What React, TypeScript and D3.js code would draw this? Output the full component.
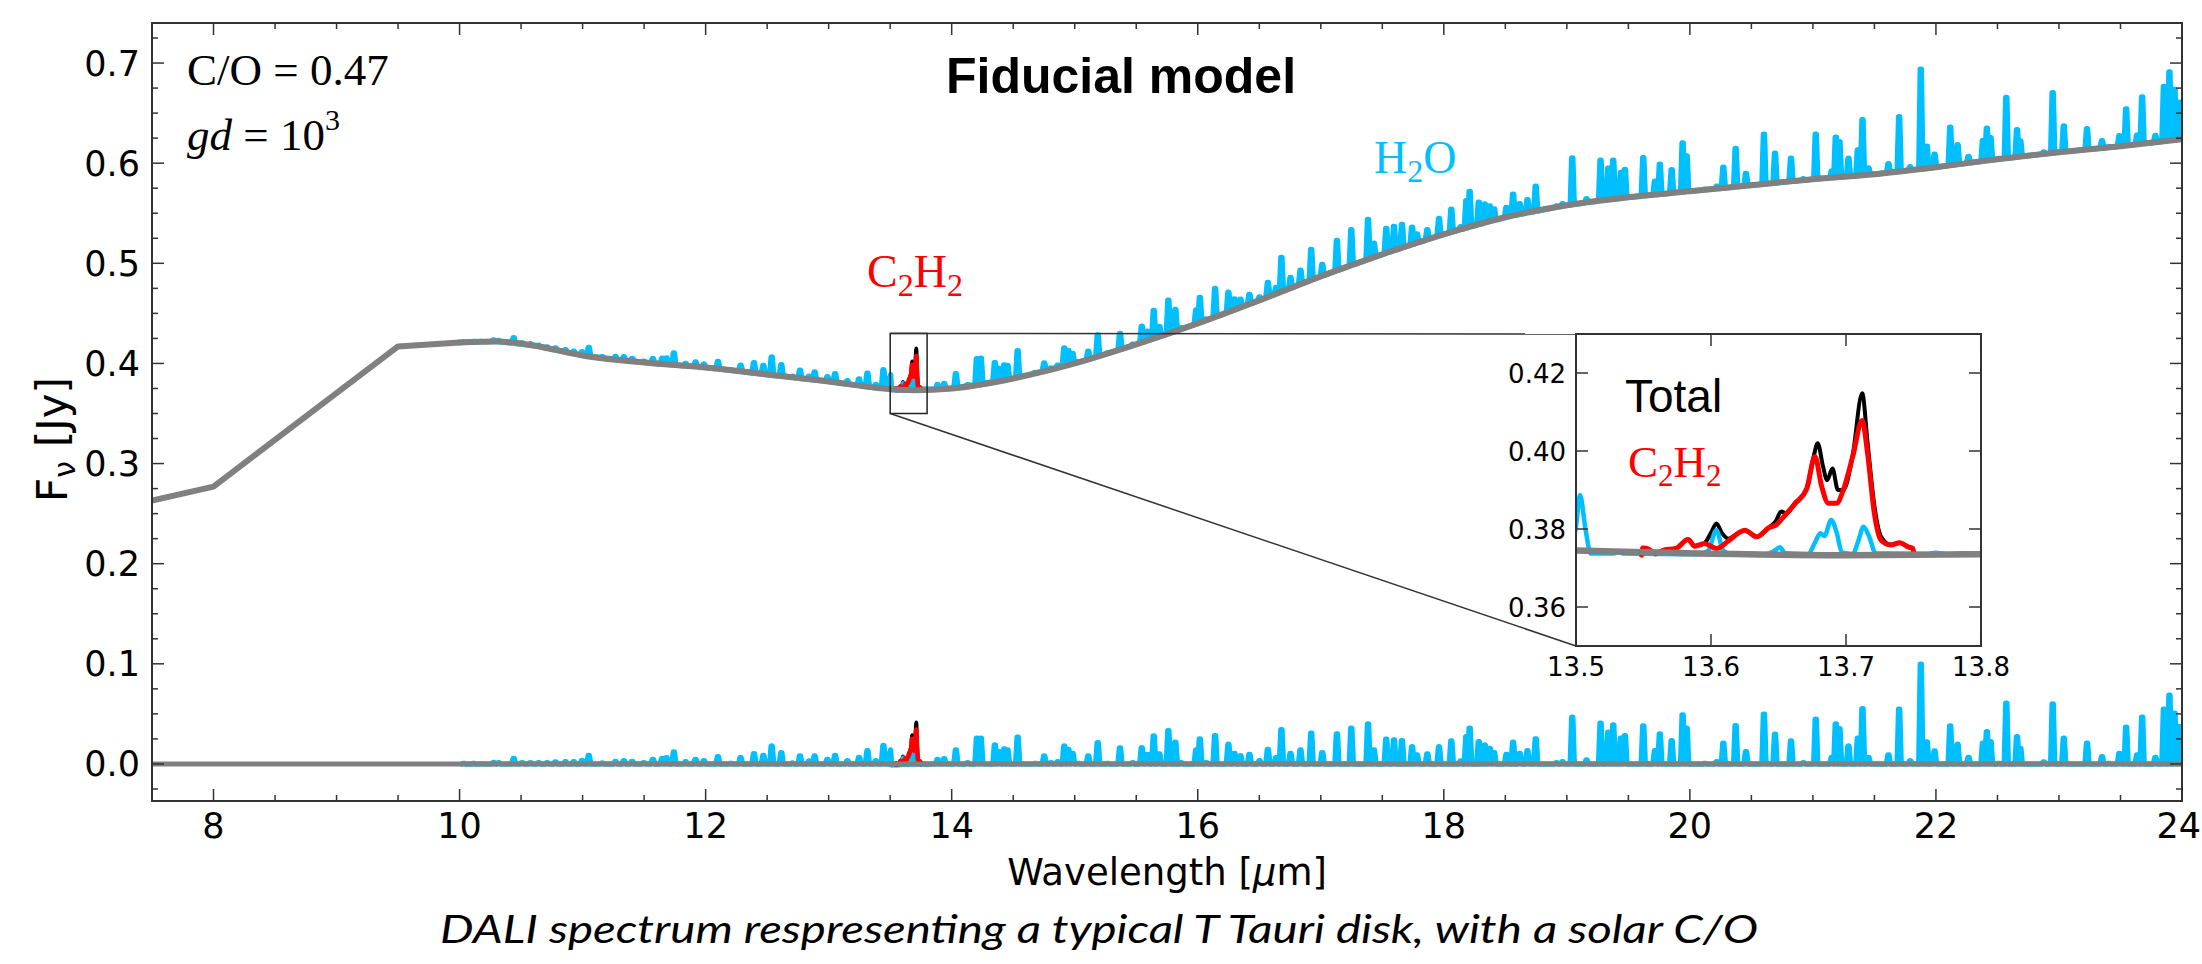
import React from "react";
import * as d3 from "d3";

// ---------------- DATA ----------------
// Continuum (gray), [wavelength µm, flux Jy]
const continuum: [number, number][] = [
  [7.5, 0.263], [8.0, 0.277], [9.5, 0.417], [10.0, 0.421], [10.3, 0.422], [10.6, 0.418],
  [11.0, 0.408], [11.5, 0.401], [12.0, 0.396], [12.5, 0.389], [13.0, 0.382], [13.4, 0.3755],
  [13.7, 0.3733], [14.0, 0.375], [14.5, 0.385], [15.0, 0.4], [15.5, 0.419], [16.0, 0.44],
  [16.5, 0.463], [17.0, 0.487], [17.5, 0.509], [18.0, 0.529], [18.5, 0.546], [19.0, 0.558],
  [19.5, 0.566], [20.0, 0.572], [20.5, 0.578], [21.0, 0.584], [21.5, 0.589], [22.0, 0.596],
  [22.5, 0.604], [23.0, 0.611], [23.5, 0.617], [24.0, 0.624],
];

// H2O emission lines: [wavelength µm, line flux above continuum Jy]
const h2oLines: [number, number][] = [
  [10.033, 0.0033], [10.114, 0.0033], [10.169, 0.003], [10.277, 0.0043], [10.318, 0.004],
  [10.44, 0.0083], [10.508, 0.004], [10.576, 0.004], [10.643, 0.004], [10.712, 0.004],
  [10.779, 0.0047], [10.86, 0.005], [10.928, 0.005], [10.996, 0.0063], [11.05, 0.0113],
  [11.159, 0.0037], [11.267, 0.0053], [11.335, 0.006], [11.403, 0.0053], [11.498, 0.004],
  [11.571, 0.0073], [11.647, 0.0083], [11.682, 0.009], [11.742, 0.0147], [11.837, 0.005],
  [11.918, 0.0073], [11.986, 0.006], [12.1, 0.01], [12.203, 0.0033], [12.284, 0.009],
  [12.393, 0.013], [12.469, 0.0113], [12.537, 0.0207], [12.615, 0.014], [12.705, 0.0037],
  [12.767, 0.0107], [12.84, 0.0057], [12.886, 0.0107], [12.99, 0.0073], [13.052, 0.0113],
  [13.152, 0.006], [13.247, 0.0093], [13.315, 0.016], [13.383, 0.006], [13.445, 0.0213],
  [13.483, 0.0127],
  [13.885, 0.0073], [13.939, 0.008], [14.034, 0.0167], [14.129, 0.004], [14.205, 0.0283],
  [14.237, 0.0283], [14.351, 0.0217], [14.386, 0.015], [14.427, 0.0177], [14.454, 0.0167],
  [14.536, 0.0293], [14.677, 0.0033], [14.752, 0.0107], [14.807, 0.004], [14.861, 0.005],
  [14.915, 0.0207], [14.948, 0.0173], [14.983, 0.0133], [15.029, 0.0033], [15.11, 0.0107],
  [15.187, 0.024], [15.268, 0.0033], [15.368, 0.0187], [15.471, 0.004], [15.545, 0.019],
  [15.588, 0.0123], [15.642, 0.0307], [15.688, 0.0127], [15.761, 0.036], [15.818, 0.0243],
  [15.865, 0.004], [15.987, 0.0167], [16.017, 0.0277], [16.068, 0.004], [16.141, 0.031],
  [16.249, 0.0223], [16.298, 0.0133], [16.347, 0.011], [16.42, 0.0123], [16.502, 0.006],
  [16.57, 0.0173], [16.637, 0.009], [16.68, 0.037], [16.754, 0.0133], [16.835, 0.0167],
  [16.922, 0.0333], [17.012, 0.014], [17.131, 0.0327], [17.248, 0.0383], [17.384, 0.0427],
  [17.432, 0.0167], [17.532, 0.0273], [17.595, 0.0267], [17.66, 0.026], [17.742, 0.02],
  [17.782, 0.0117], [17.866, 0.0127], [17.961, 0.02], [18.061, 0.0257], [18.137, 0.0057],
  [18.183, 0.03], [18.21, 0.0383], [18.284, 0.025], [18.333, 0.0217], [18.373, 0.0183],
  [18.409, 0.014], [18.509, 0.0123], [18.563, 0.0243], [18.617, 0.0133], [18.68, 0.016],
  [18.747, 0.0277], [18.916, 0.004], [18.965, 0.005], [19.044, 0.0493], [19.16, 0.0067],
  [19.274, 0.0433], [19.337, 0.0343], [19.377, 0.0417], [19.439, 0.0283], [19.472, 0.031],
  [19.621, 0.0407], [19.716, 0.016], [19.756, 0.0327], [19.852, 0.026], [19.941, 0.0517],
  [19.974, 0.0383], [20.123, 0.0033], [20.218, 0.005], [20.272, 0.0233], [20.372, 0.041],
  [20.456, 0.015], [20.602, 0.0523], [20.692, 0.0323], [20.822, 0.0257], [20.923, 0.004],
  [21.023, 0.0473], [21.153, 0.0093], [21.186, 0.0427], [21.216, 0.038], [21.289, 0.0207],
  [21.365, 0.0283], [21.403, 0.058], [21.452, 0.0093], [21.614, 0.0117], [21.701, 0.0573],
  [21.79, 0.006], [21.877, 0.1023], [21.926, 0.0247], [21.989, 0.0157], [22.116, 0.0407],
  [22.176, 0.0223], [22.265, 0.0093], [22.382, 0.0233], [22.414, 0.035], [22.444, 0.025],
  [22.51, 0.0033], [22.572, 0.0633], [22.659, 0.03], [22.686, 0.0183], [22.876, 0.0047],
  [22.949, 0.0627], [23.039, 0.0283], [23.161, 0.0027], [23.228, 0.0233], [23.35, 0.01],
  [23.405, 0.0033], [23.491, 0.0133], [23.546, 0.0393], [23.635, 0.0117], [23.676, 0.0493],
  [23.784, 0.0093], [23.853, 0.0573], [23.898, 0.0713], [23.939, 0.0533], [23.98, 0.04],
];

// Zoomed window 13.5–13.8 µm (absolute flux, Jy)
const h2oWindow: [number, number][] = [
  [13.495, 0.3745], [13.5, 0.3806], [13.503, 0.3887], [13.507, 0.38], [13.511, 0.3737],
  [13.528, 0.3737], [13.531, 0.3741], [13.535, 0.3737], [13.59, 0.3735], [13.598, 0.3745],
  [13.604, 0.3797], [13.609, 0.3745], [13.615, 0.3735], [13.622, 0.3738], [13.64, 0.3735],
  [13.647, 0.3744], [13.651, 0.3753], [13.655, 0.3738], [13.672, 0.3736], [13.677, 0.3765],
  [13.681, 0.3789], [13.684, 0.3782], [13.689, 0.3823], [13.693, 0.3792], [13.697, 0.374],
  [13.705, 0.3736], [13.709, 0.3768], [13.713, 0.3806], [13.717, 0.3782], [13.722, 0.3738],
  [13.76, 0.3736], [13.766, 0.3739], [13.775, 0.3735], [13.787, 0.3738], [13.8, 0.3735],
];

const c2h2Window: [number, number][] = [
  [13.5485, 0.3733], [13.5495, 0.3751], [13.554, 0.3748], [13.559, 0.3736], [13.565, 0.3746],
  [13.574, 0.375], [13.583, 0.3773], [13.588, 0.3756], [13.595, 0.3763], [13.604, 0.375],
  [13.613, 0.377], [13.62, 0.3789], [13.625, 0.3797], [13.634, 0.378], [13.643, 0.3804],
  [13.648, 0.381], [13.655, 0.3836], [13.662, 0.3864], [13.671, 0.3904], [13.677, 0.3986],
  [13.682, 0.3909], [13.687, 0.3866], [13.693, 0.3866], [13.698, 0.39], [13.705, 0.3986],
  [13.712, 0.4078], [13.716, 0.3994], [13.721, 0.384], [13.726, 0.3771], [13.733, 0.3759],
  [13.74, 0.3765], [13.746, 0.3754], [13.7495, 0.375], [13.7505, 0.3733],
];

const totalWindow: [number, number][] = [
  [13.5485, 0.3733], [13.5495, 0.3751], [13.554, 0.3748], [13.559, 0.3736], [13.565, 0.3746],
  [13.574, 0.375], [13.583, 0.3773], [13.588, 0.3756], [13.595, 0.3763], [13.6, 0.379],
  [13.604, 0.3814], [13.608, 0.379], [13.613, 0.3775], [13.62, 0.3789], [13.625, 0.3797],
  [13.634, 0.378], [13.643, 0.3804], [13.648, 0.382], [13.652, 0.3845], [13.656, 0.384],
  [13.662, 0.3866], [13.671, 0.3904], [13.676, 0.3985], [13.679, 0.402], [13.683, 0.396],
  [13.686, 0.3925], [13.69, 0.3955], [13.694, 0.39], [13.698, 0.39], [13.705, 0.399],
  [13.712, 0.4148], [13.716, 0.402], [13.721, 0.386], [13.726, 0.378], [13.733, 0.376],
  [13.74, 0.3765], [13.746, 0.3754], [13.7495, 0.375], [13.7505, 0.3733],
];

// Ticks
const xTicksMain = [8, 10, 12, 14, 16, 18, 20, 22, 24];
const yTicksMain = [0.0, 0.1, 0.2, 0.3, 0.4, 0.5, 0.6, 0.7];
const xTicksInset = [13.5, 13.6, 13.7, 13.8];
const yTicksInset = [0.36, 0.38, 0.4, 0.42];
const xDomain: [number, number] = [7.5, 24];
const yDomain: [number, number] = [-0.037, 0.74];
const insetXDomain: [number, number] = [13.5, 13.8];
const insetYDomain: [number, number] = [0.35, 0.43];

// ---------------- LAYOUT ----------------
const W = 2202, H = 964;
const M = { left: 152, right: 2182, top: 23, bottom: 801 };
const INS = { left: 1576, right: 1981, top: 334, bottom: 646 };

const BLUE = "#00bfff";
const GRAY = "#808080";
const RED = "#ff0000";
const TICKFONT = "DejaVu Sans, sans-serif";

type Pt = [number, number];

export default function App() {
  const x = d3.scaleLinear().domain(xDomain).range([M.left, M.right]);
  const y = d3.scaleLinear().domain(yDomain).range([M.bottom, M.top]);
  const xi = d3.scaleLinear().domain(insetXDomain).range([INS.left, INS.right]);
  const yi = d3.scaleLinear().domain(insetYDomain).range([INS.bottom, INS.top]);

  const contAt = d3
    .scaleLinear()
    .domain(continuum.map((d) => d[0]))
    .range(continuum.map((d) => d[1]))
    .clamp(true);

  const mk = (xs: any, ys: any, curve: any) =>
    d3.line<Pt>().x((d) => xs(d[0])).y((d) => ys(d[1])).curve(curve);

  const contA = continuum.filter((d) => d[0] <= 10);
  const contB = continuum.filter((d) => d[0] >= 10);

  const resid = (arr: Pt[]): Pt[] => arr.map(([w, v]) => [w, v - contAt(w)] as Pt);

  const SW = 5.5;
  const DW = 0.016;
  const spikes = (baseFn: (w: number) => number) => {
    const pts: Pt[] = [];
    for (const [w, h] of h2oLines) {
      const yb = y(baseFn(w));
      const yt = Math.min(yb, y(baseFn(w) + h) + SW / 2);
      pts.push([x(w - DW), y(baseFn(w - DW))]);
      pts.push([x(w - DW * 0.25), yt]);
      pts.push([x(w + DW * 0.25), yt]);
      pts.push([x(w + DW), y(baseFn(w + DW))]);
    }
    return d3.line<Pt>().x((d) => d[0]).y((d) => d[1])(pts) || "";
  };

  const mainLin = (arr: Pt[], curve = d3.curveMonotoneX) => mk(x, y, curve)(arr) || "";
  const insLin = (arr: Pt[], curve = d3.curveMonotoneX) => mk(xi, yi, curve)(arr) || "";

  const minorX = d3.range(7.5, 24.001, 0.5).filter((v) => Math.abs(v / 2 - Math.round(v / 2)) > 1e-6);
  const minorY = d3.range(-0.025, 0.7401, 0.025).filter((v) => Math.abs(v * 10 - Math.round(v * 10)) > 1e-6);

  const zero: Pt[] = [[7.5, 0], [24, 0]];

  return (
    <svg width={W} height={H} style={{ position: "absolute", left: 0, top: 0, background: "#fff" }}>
      <defs>
        <clipPath id="mainClip">
          <rect x={M.left} y={M.top} width={M.right - M.left} height={M.bottom - M.top} />
        </clipPath>
        <clipPath id="insClip">
          <rect x={INS.left} y={INS.top} width={INS.right - INS.left} height={INS.bottom - INS.top} />
        </clipPath>
      </defs>
      <rect x={0} y={0} width={W} height={H} fill="#fff" />

      {/* main data */}
      <g clipPath="url(#mainClip)" fill="none" strokeLinejoin="round" strokeLinecap="round">
        <path d={mainLin(totalWindow)} stroke="#000" strokeWidth={4} />
        <path d={mainLin(resid(totalWindow))} stroke="#000" strokeWidth={4} />
        <path d={spikes((w) => contAt(w))} stroke={BLUE} strokeWidth={SW} />
        <path d={spikes(() => 0)} stroke={BLUE} strokeWidth={SW} />
        <path d={mainLin(h2oWindow)} stroke={BLUE} strokeWidth={SW} />
        <path d={mainLin(resid(h2oWindow))} stroke={BLUE} strokeWidth={SW} />
        <path d={mainLin(c2h2Window)} stroke={RED} strokeWidth={4.5} />
        <path d={mainLin(resid(c2h2Window))} stroke={RED} strokeWidth={4.5} />
        <path d={mainLin(contA, d3.curveLinear)} stroke={GRAY} strokeWidth={6} />
        <path d={mainLin(contB)} stroke={GRAY} strokeWidth={6} />
        <path d={mainLin(zero, d3.curveLinear)} stroke={GRAY} strokeWidth={5} />
      </g>

      {/* zoom indicator */}
      <rect
        x={x(insetXDomain[0])}
        y={y(insetYDomain[1])}
        width={x(insetXDomain[1]) - x(insetXDomain[0])}
        height={y(insetYDomain[0]) - y(insetYDomain[1])}
        fill="none"
        stroke="#222"
        strokeWidth={1.5}
      />
      <line x1={x(insetXDomain[0])} y1={y(insetYDomain[1])} x2={INS.left} y2={INS.top} stroke="#333" strokeWidth={1.5} />
      <line x1={x(insetXDomain[0])} y1={y(insetYDomain[0])} x2={INS.left} y2={INS.bottom} stroke="#333" strokeWidth={1.5} />

      {/* main frame & ticks */}
      <rect x={M.left} y={M.top} width={M.right - M.left} height={M.bottom - M.top} fill="none" stroke="#333" strokeWidth={2} />
      <g stroke="#333" strokeWidth={1.5}>
        {xTicksMain.map((t) => (
          <g key={"xt" + t}>
            <line x1={x(t)} x2={x(t)} y1={M.bottom} y2={M.bottom - 12} />
            <line x1={x(t)} x2={x(t)} y1={M.top} y2={M.top + 12} />
          </g>
        ))}
        {minorX.map((t) => (
          <g key={"xm" + t}>
            <line x1={x(t)} x2={x(t)} y1={M.bottom} y2={M.bottom - 6} />
            <line x1={x(t)} x2={x(t)} y1={M.top} y2={M.top + 6} />
          </g>
        ))}
        {yTicksMain.map((t) => (
          <g key={"yt" + t}>
            <line x1={M.left} x2={M.left + 12} y1={y(t)} y2={y(t)} />
            <line x1={M.right} x2={M.right - 12} y1={y(t)} y2={y(t)} />
          </g>
        ))}
        {minorY.map((t) => (
          <g key={"ym" + t}>
            <line x1={M.left} x2={M.left + 6} y1={y(t)} y2={y(t)} />
            <line x1={M.right} x2={M.right - 6} y1={y(t)} y2={y(t)} />
          </g>
        ))}
      </g>
      <g fontFamily={TICKFONT} fontSize={35} fill="#000">
        {xTicksMain.map((t, i) => (
          <text
            key={"xl" + t}
            x={i === xTicksMain.length - 1 ? W - 1 : x(t)}
            y={M.bottom + 37}
            textAnchor={i === xTicksMain.length - 1 ? "end" : "middle"}
          >
            {d3.format("d")(t)}
          </text>
        ))}
        {yTicksMain.map((t) => (
          <text key={"yl" + t} x={M.left - 12} y={y(t) + 12.5} textAnchor="end">
            {d3.format(".1f")(t)}
          </text>
        ))}
      </g>
      <text x={(M.left + M.right) / 2} y={885} textAnchor="middle" fontFamily={TICKFONT} fontSize={37}>
        Wavelength [<tspan fontStyle="italic">μ</tspan>m]
      </text>
      <text transform={`translate(67,502) rotate(-90)`} textAnchor="start" fontFamily={TICKFONT} fontSize={42}>
        F<tspan fontSize={30} dy={8}>ν</tspan>
        <tspan dy={-8} dx={14}>[Jy]</tspan>
      </text>

      {/* annotations */}
      <text x={1121} y={93} textAnchor="middle" fontFamily="Liberation Sans, Arial, sans-serif" fontWeight="bold" fontSize={50}>
        Fiducial model
      </text>
      <text x={187} y={85} fontFamily="Liberation Serif, Times New Roman, serif" fontSize={45}>
        C/O = 0.47
      </text>
      <text x={187} y={150} fontFamily="Liberation Serif, Times New Roman, serif" fontSize={45}>
        <tspan fontStyle="italic">gd</tspan> = 10<tspan fontSize={30} dy={-20}>3</tspan>
      </text>
      <text x={1374} y={173} fontFamily="Liberation Serif, Times New Roman, serif" fontSize={46} fill={BLUE}>
        H<tspan fontSize={32} dy={9}>2</tspan>
        <tspan dy={-9}>O</tspan>
      </text>
      <text x={867} y={287} fontFamily="Liberation Serif, Times New Roman, serif" fontSize={46} fill={RED}>
        C<tspan fontSize={32} dy={9}>2</tspan>
        <tspan dy={-9}>H</tspan>
        <tspan fontSize={32} dy={9}>2</tspan>
      </text>

      {/* inset */}
      <rect x={INS.left} y={INS.top} width={INS.right - INS.left} height={INS.bottom - INS.top} fill="#fff" />
      <g clipPath="url(#insClip)" fill="none" strokeLinejoin="round" strokeLinecap="round">
        <path d={insLin(totalWindow)} stroke="#000" strokeWidth={4} />
        <path d={insLin(h2oWindow)} stroke={BLUE} strokeWidth={4.5} />
        <path d={insLin(c2h2Window)} stroke={RED} strokeWidth={5} />
        <path d={insLin(continuum)} stroke={GRAY} strokeWidth={6.5} />
      </g>
      <rect x={INS.left} y={INS.top} width={INS.right - INS.left} height={INS.bottom - INS.top} fill="none" stroke="#333" strokeWidth={2} />
      <g stroke="#333" strokeWidth={1.5}>
        {xTicksInset.map((t) => (
          <g key={"ixt" + t}>
            <line x1={xi(t)} x2={xi(t)} y1={INS.bottom} y2={INS.bottom - 12} />
            <line x1={xi(t)} x2={xi(t)} y1={INS.top} y2={INS.top + 12} />
          </g>
        ))}
        {yTicksInset.map((t) => (
          <g key={"iyt" + t}>
            <line x1={INS.left} x2={INS.left + 12} y1={yi(t)} y2={yi(t)} />
            <line x1={INS.right} x2={INS.right - 12} y1={yi(t)} y2={yi(t)} />
          </g>
        ))}
      </g>
      <g fontFamily={TICKFONT} fontSize={26} fill="#000">
        {xTicksInset.map((t) => (
          <text key={"ixl" + t} x={xi(t)} y={INS.bottom + 30} textAnchor="middle">
            {d3.format(".1f")(t)}
          </text>
        ))}
        {yTicksInset.map((t) => (
          <text key={"iyl" + t} x={INS.left - 10} y={yi(t) + 9.5} textAnchor="end">
            {d3.format(".2f")(t)}
          </text>
        ))}
      </g>
      <text x={1625} y={412} fontFamily="Liberation Sans, Arial, sans-serif" fontSize={46} fill="#000">
        Total
      </text>
      <text x={1628} y={477} fontFamily="Liberation Serif, Times New Roman, serif" fontSize={45} fill={RED}>
        C<tspan fontSize={31} dy={9}>2</tspan>
        <tspan dy={-9}>H</tspan>
        <tspan fontSize={31} dy={9}>2</tspan>
      </text>

      {/* caption */}
      <text
        x={440}
        y={943}
        fontFamily="Lato, Open Sans, sans-serif"
        fontStyle="italic"
        fontSize={38}
        textLength={1318}
        lengthAdjust="spacingAndGlyphs"
      >
        DALI spectrum respresenting a typical T Tauri disk, with a solar C/O
      </text>
    </svg>
  );
}
